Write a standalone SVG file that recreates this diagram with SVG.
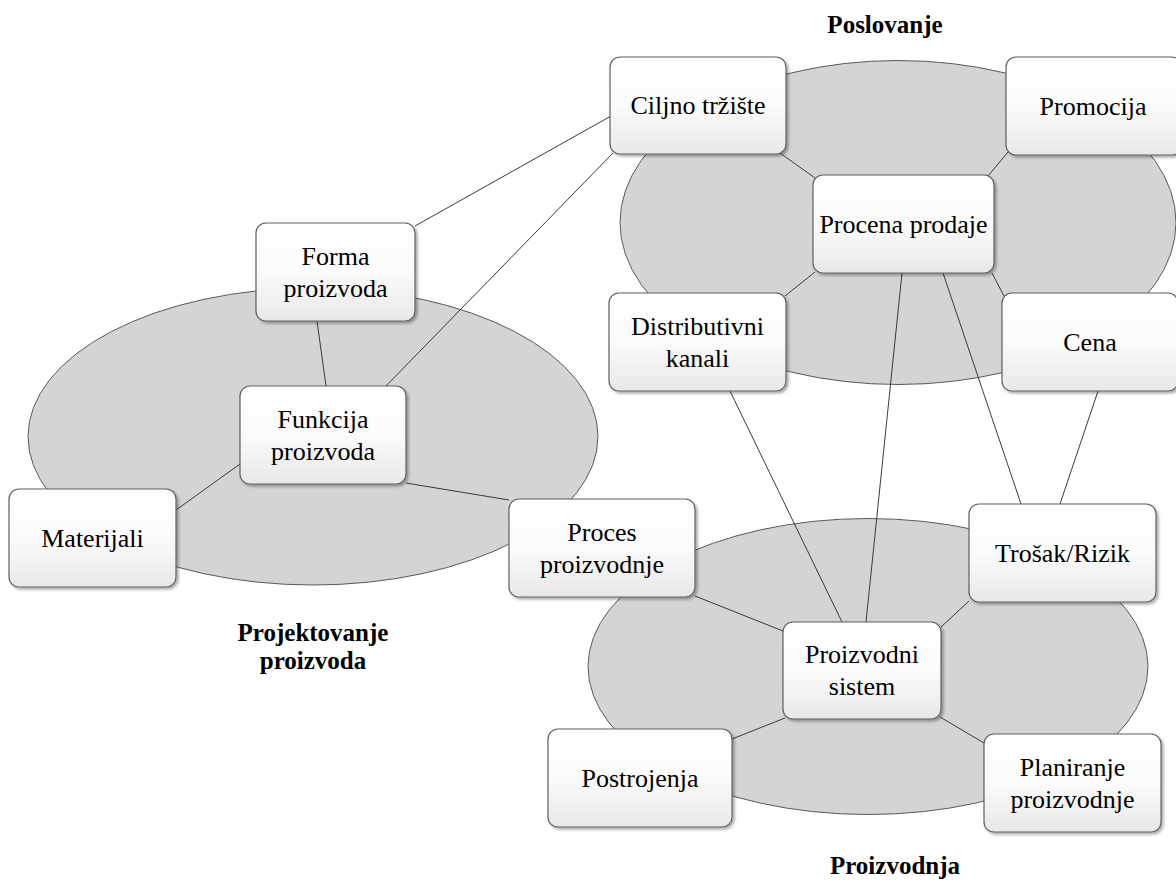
<svg xmlns="http://www.w3.org/2000/svg" width="1176" height="883" viewBox="0 0 1176 883">
  <defs>
    <linearGradient id="boxFill" x1="0" y1="0" x2="0" y2="1">
      <stop offset="0" stop-color="#ffffff"/>
      <stop offset="0.5" stop-color="#fbfbfb"/>
      <stop offset="1" stop-color="#e8e8e8"/>
    </linearGradient>
    <filter id="shadow" x="-10%" y="-10%" width="125%" height="125%">
      <feGaussianBlur in="SourceAlpha" stdDeviation="1.5"/>
      <feOffset dx="2" dy="2" result="off"/>
      <feComponentTransfer><feFuncA type="linear" slope="0.35"/></feComponentTransfer>
      <feMerge><feMergeNode/><feMergeNode in="SourceGraphic"/></feMerge>
    </filter>
  </defs>
  <style>
    .area { fill: #d4d4d4; stroke: #5a5a5a; stroke-width: 1; }
    .box { fill: url(#boxFill); stroke: #606060; stroke-width: 1.2; filter: url(#shadow); }
    .lbl { font-family: "Liberation Serif", "Times New Roman", serif; font-size: 26px; fill: #000; text-anchor: middle; }
    .title { font-family: "Liberation Serif", "Times New Roman", serif; font-size: 25px; font-weight: bold; fill: #000; text-anchor: middle; }
    .conn line { stroke: #3a3a3a; stroke-width: 1; }
  </style>

  <rect width="1176" height="883" fill="#ffffff"/>

  <!-- domain areas -->
  <g id="areas">
    <ellipse class="area" cx="898" cy="222.5" rx="278" ry="162"/>
    <ellipse class="area" cx="313" cy="436.5" rx="285" ry="148.5"/>
    <ellipse class="area" cx="868" cy="666.5" rx="280" ry="148"/>
  </g>

  <!-- connectors -->
  <g id="connectors" class="conn">
    <line x1="611" y1="116" x2="415" y2="226"/>
    <line x1="613" y1="153" x2="385" y2="387"/>
    <line x1="317" y1="321" x2="326" y2="386"/>
    <line x1="240" y1="464" x2="176" y2="510"/>
    <line x1="406" y1="483" x2="509" y2="500"/>
    <line x1="695" y1="596" x2="783" y2="631"/>
    <line x1="730" y1="391" x2="842" y2="622"/>
    <line x1="902" y1="273" x2="866" y2="622"/>
    <line x1="943" y1="273" x2="1021" y2="504"/>
    <line x1="1098" y1="391" x2="1060" y2="504"/>
    <line x1="969" y1="601" x2="941" y2="627"/>
    <line x1="785" y1="718" x2="732" y2="739"/>
    <line x1="940" y1="717" x2="984" y2="743"/>
    <line x1="780" y1="153" x2="815" y2="178"/>
    <line x1="988" y1="176" x2="1008" y2="152"/>
    <line x1="815" y1="272" x2="785" y2="296"/>
    <line x1="992" y1="273" x2="1004" y2="296"/>
  </g>

  <!-- Poslovanje -->
  <g id="ciljno-trziste">
    <rect class="box" x="610" y="57" width="176" height="97" rx="10"/>
    <text class="lbl" x="698" y="114">Ciljno tržište</text>
  </g>
  <g id="promocija">
    <rect class="box" x="1006" y="57" width="176" height="98" rx="10"/>
    <text class="lbl" x="1093" y="115">Promocija</text>
  </g>
  <g id="procena-prodaje">
    <rect class="box" x="813" y="175" width="181" height="98" rx="10"/>
    <text class="lbl" x="903.5" y="233">Procena prodaje</text>
  </g>
  <g id="distributivni-kanali">
    <rect class="box" x="609" y="293" width="177" height="98" rx="10"/>
    <text class="lbl" x="697.5" y="335">Distributivni</text>
    <text class="lbl" x="697.5" y="367">kanali</text>
  </g>
  <g id="cena">
    <rect class="box" x="1002" y="293" width="176" height="98" rx="10"/>
    <text class="lbl" x="1090" y="351">Cena</text>
  </g>

  <!-- Projektovanje proizvoda -->
  <g id="forma-proizvoda">
    <rect class="box" x="256" y="223" width="159" height="98" rx="10"/>
    <text class="lbl" x="335.5" y="265">Forma</text>
    <text class="lbl" x="335.5" y="297">proizvoda</text>
  </g>
  <g id="funkcija-proizvoda">
    <rect class="box" x="240" y="386" width="166" height="98" rx="10"/>
    <text class="lbl" x="323" y="428">Funkcija</text>
    <text class="lbl" x="323" y="460">proizvoda</text>
  </g>
  <g id="materijali">
    <rect class="box" x="9" y="489" width="167" height="98" rx="10"/>
    <text class="lbl" x="92.5" y="547">Materijali</text>
  </g>

  <!-- Proizvodnja -->
  <g id="proces-proizvodnje">
    <rect class="box" x="509" y="499" width="186" height="98" rx="10"/>
    <text class="lbl" x="602" y="541">Proces</text>
    <text class="lbl" x="602" y="573">proizvodnje</text>
  </g>
  <g id="trosak-rizik">
    <rect class="box" x="969" y="504" width="187" height="98" rx="10"/>
    <text class="lbl" x="1062.5" y="562">Trošak/Rizik</text>
  </g>
  <g id="proizvodni-sistem">
    <rect class="box" x="783" y="622" width="158" height="97" rx="10"/>
    <text class="lbl" x="862" y="663">Proizvodni</text>
    <text class="lbl" x="862" y="695">sistem</text>
  </g>
  <g id="postrojenja">
    <rect class="box" x="548" y="729" width="184" height="98" rx="10"/>
    <text class="lbl" x="640" y="787">Postrojenja</text>
  </g>
  <g id="planiranje-proizvodnje">
    <rect class="box" x="984" y="734" width="177" height="98" rx="10"/>
    <text class="lbl" x="1072.5" y="776">Planiranje</text>
    <text class="lbl" x="1072.5" y="808">proizvodnje</text>
  </g>

  <!-- area titles -->
  <g id="titles">
    <text class="title" x="885" y="33">Poslovanje</text>
    <text class="title" x="313" y="641">Projektovanje</text>
    <text class="title" x="313" y="669">proizvoda</text>
    <text class="title" x="895" y="874">Proizvodnja</text>
  </g>
</svg>
